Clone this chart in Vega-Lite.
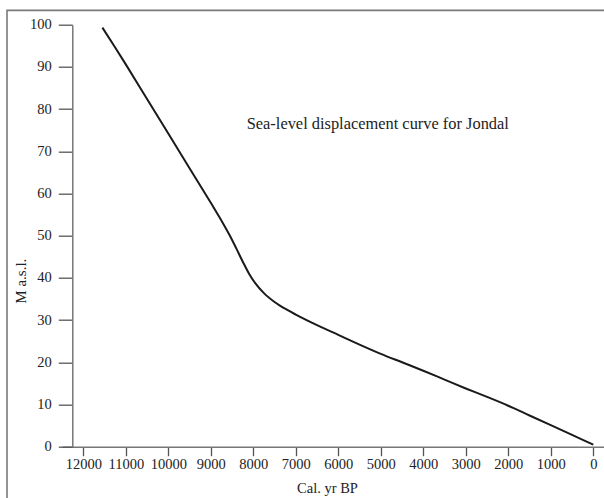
{
  "$schema": "https://vega.github.io/schema/vega-lite/v6.json",
  "width": 542,
  "height": 422,
  "autosize": {"type": "none"},
  "padding": {"left": 62, "top": 24.7, "right": 0, "bottom": 51.3},
  "background": "white",
  "config": {
    "view": {"stroke": null},
    "font": "Liberation Serif"
  },
  "datasets": {
    "curve": [
      {"year": 11550, "m": 99.3},
      {"year": 11250, "m": 94.6},
      {"year": 11000, "m": 90.6},
      {"year": 10500, "m": 82.4},
      {"year": 10000, "m": 74.2},
      {"year": 9500, "m": 66.0},
      {"year": 9000, "m": 57.8},
      {"year": 8750, "m": 53.6},
      {"year": 8550, "m": 50.0},
      {"year": 8400, "m": 47.0},
      {"year": 8250, "m": 43.9},
      {"year": 8100, "m": 41.0},
      {"year": 7950, "m": 38.7},
      {"year": 7750, "m": 36.4},
      {"year": 7500, "m": 34.3},
      {"year": 7200, "m": 32.4},
      {"year": 7000, "m": 31.3},
      {"year": 6500, "m": 28.8},
      {"year": 6000, "m": 26.5},
      {"year": 5500, "m": 24.2},
      {"year": 5000, "m": 22.0},
      {"year": 4500, "m": 20.0},
      {"year": 4000, "m": 18.0},
      {"year": 3500, "m": 15.9},
      {"year": 3000, "m": 13.8},
      {"year": 2500, "m": 11.8},
      {"year": 2000, "m": 9.7},
      {"year": 1500, "m": 7.4},
      {"year": 1000, "m": 5.1},
      {"year": 500, "m": 2.8},
      {"year": 0, "m": 0.5}
    ],
    "frame": [{"x1": 13795, "x2": -400, "y1": 103.4, "y2": -14}],
    "note": [{"year": 8155, "m": 75.2, "label": "Sea-level displacement curve for Jondal"}]
  },
  "layer": [
    {
      "data": {"name": "frame"},
      "mark": {"type": "rect", "fill": null, "stroke": "#7a7a7a", "strokeWidth": 1.6, "clip": false},
      "encoding": {
        "x": {"field": "x1", "type": "quantitative"},
        "x2": {"field": "x2"},
        "y": {"field": "y1", "type": "quantitative"},
        "y2": {"field": "y2"}
      }
    },
    {
      "data": {"name": "curve"},
      "mark": {"type": "line", "color": "#1a1a1a", "strokeWidth": 2, "interpolate": "monotone"},
      "encoding": {
        "x": {
          "field": "year",
          "type": "quantitative",
          "scale": {"domain": [-252, 12501], "reverse": true, "nice": false, "zero": false},
          "axis": {
            "values": [12000, 11000, 10000, 9000, 8000, 7000, 6000, 5000, 4000, 3000, 2000, 1000, 0],
            "format": "d",
            "grid": false,
            "labelFont": "Liberation Serif",
            "labelFontSize": 14.5,
            "labelColor": "#222",
            "labelPadding": 2,
            "tickSize": 9,
            "tickColor": "#555",
            "tickWidth": 1.3,
            "domainColor": "#777",
            "domainWidth": 1.5,
            "title": "Cal. yr BP",
            "titleFont": "Liberation Serif",
            "titleFontSize": 14.5,
            "titleFontWeight": "normal",
            "titleColor": "#222",
            "titleBaseline": "alphabetic",
            "titleX": 265,
            "titleY": 46
          }
        },
        "y": {
          "field": "m",
          "type": "quantitative",
          "scale": {"domain": [0, 100], "nice": false},
          "axis": {
            "values": [0, 10, 20, 30, 40, 50, 60, 70, 80, 90, 100],
            "grid": false,
            "offset": -10.3,
            "labelFont": "Liberation Serif",
            "labelFontSize": 14.5,
            "labelColor": "#222",
            "labelPadding": 7,
            "tickSize": 14,
            "tickColor": "#555",
            "tickWidth": 1.3,
            "domainColor": "#777",
            "domainWidth": 1.5,
            "title": "M a.s.l.",
            "titleFont": "Liberation Serif",
            "titleFontSize": 15,
            "titleFontWeight": "normal",
            "titleColor": "#222",
            "titleX": -44,
            "titleY": 256
          }
        }
      }
    },
    {
      "data": {"name": "note"},
      "mark": {"type": "text", "align": "left", "baseline": "alphabetic", "font": "Liberation Serif", "fontSize": 16.4, "color": "#222"},
      "encoding": {
        "x": {"field": "year", "type": "quantitative"},
        "y": {"field": "m", "type": "quantitative"},
        "text": {"field": "label"}
      }
    }
  ]
}
